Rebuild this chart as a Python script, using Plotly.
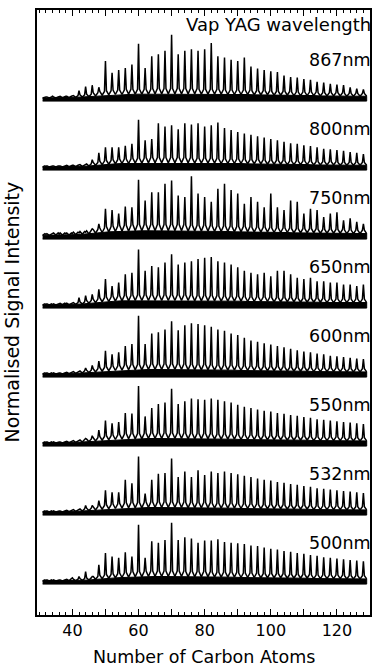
import plotly.graph_objects as go

# Carbon numbers: cluster peaks at even n, noise band sampled at odd n
peak_n = list(range(32, 129, 2))     # 49 values
band_n = list(range(31, 130, 2))     # 50 values

labels = ["867nm", "800nm", "750nm", "650nm", "600nm", "550nm", "532nm", "500nm"]
x_ticks = [40, 50, 60, 70, 80, 90, 100, 110, 120]
x_tick_text = ["40", "", "60", "", "80", "", "100", "", "120"]

# peak heights (fraction of panel spacing), n = 32..128 step 2
peaks_867 = [0.03, 0.04, 0.03, 0.04, 0.05, 0.12, 0.18, 0.2, 0.17, 0.55, 0.38, 0.42, 0.45, 0.5,
             0.8, 0.45, 0.62, 0.65, 0.7, 0.93, 0.65, 0.7, 0.72, 0.7, 0.72, 0.81, 0.62, 0.6, 0.57,
             0.55, 0.6, 0.47, 0.44, 0.42, 0.4, 0.39, 0.34, 0.32, 0.31, 0.29, 0.28, 0.25, 0.24,
             0.22, 0.21, 0.2, 0.17, 0.15, 0.14]
peaks_800 = [0.02, 0.03, 0.03, 0.03, 0.04, 0.05, 0.06, 0.12, 0.22, 0.3, 0.3, 0.3, 0.32, 0.35,
             0.7, 0.4, 0.42, 0.65, 0.6, 0.62, 0.56, 0.65, 0.63, 0.65, 0.6, 0.62, 0.66, 0.58, 0.55,
             0.52, 0.5, 0.48, 0.46, 0.44, 0.42, 0.4, 0.38, 0.36, 0.35, 0.33, 0.32, 0.3, 0.28,
             0.27, 0.26, 0.25, 0.23, 0.22, 0.2]
peaks_750 = [0.04, 0.05, 0.04, 0.05, 0.05, 0.06, 0.07, 0.12, 0.19, 0.41, 0.39, 0.34, 0.44, 0.43,
             0.83, 0.53, 0.65, 0.65, 0.77, 0.82, 0.6, 0.58, 0.88, 0.63, 0.58, 0.51, 0.7, 0.77, 0.68,
             0.63, 0.48, 0.58, 0.51, 0.43, 0.63, 0.43, 0.39, 0.53, 0.51, 0.34, 0.41, 0.39, 0.29,
             0.34, 0.36, 0.24, 0.27, 0.22, 0.19]
peaks_650 = [0.02, 0.02, 0.03, 0.03, 0.04, 0.12, 0.15, 0.17, 0.24, 0.39, 0.29, 0.34, 0.46, 0.48,
             0.82, 0.51, 0.58, 0.56, 0.63, 0.75, 0.6, 0.63, 0.65, 0.68, 0.7, 0.71, 0.65, 0.63, 0.6,
             0.56, 0.51, 0.48, 0.46, 0.48, 0.43, 0.51, 0.51, 0.46, 0.41, 0.39, 0.41, 0.36, 0.36,
             0.34, 0.34, 0.31, 0.31, 0.29, 0.31]
peaks_600 = [0.02, 0.02, 0.03, 0.03, 0.04, 0.06, 0.1, 0.14, 0.2, 0.35, 0.3, 0.33, 0.42, 0.45,
             0.86, 0.45, 0.6, 0.62, 0.66, 0.78, 0.65, 0.72, 0.75, 0.74, 0.72, 0.7, 0.66, 0.64, 0.6,
             0.58, 0.54, 0.5, 0.48, 0.46, 0.44, 0.42, 0.4, 0.38, 0.36, 0.34, 0.33, 0.31, 0.3,
             0.28, 0.27, 0.26, 0.25, 0.24, 0.23]
peaks_550 = [0.02, 0.02, 0.03, 0.03, 0.04, 0.05, 0.08, 0.12, 0.2, 0.34, 0.3, 0.32, 0.45, 0.44,
             0.84, 0.4, 0.52, 0.58, 0.6, 0.8, 0.58, 0.62, 0.66, 0.65, 0.64, 0.66, 0.64, 0.62, 0.6,
             0.57, 0.54, 0.52, 0.5, 0.48, 0.47, 0.45, 0.44, 0.42, 0.41, 0.39, 0.38, 0.36, 0.35,
             0.34, 0.33, 0.32, 0.31, 0.3, 0.29]
peaks_532 = [0.02, 0.02, 0.03, 0.03, 0.04, 0.06, 0.11, 0.11, 0.18, 0.33, 0.3, 0.3, 0.48, 0.43,
             0.82, 0.28, 0.48, 0.57, 0.58, 0.79, 0.52, 0.6, 0.52, 0.62, 0.55, 0.6, 0.58, 0.6, 0.58,
             0.56, 0.54, 0.52, 0.5, 0.48, 0.47, 0.45, 0.44, 0.42, 0.41, 0.39, 0.38, 0.36, 0.35,
             0.34, 0.33, 0.32, 0.31, 0.3, 0.29]
peaks_500 = [0.02, 0.02, 0.03, 0.03, 0.06, 0.08, 0.15, 0.08, 0.25, 0.42, 0.37, 0.35, 0.43, 0.37,
             0.83, 0.35, 0.59, 0.57, 0.61, 0.86, 0.61, 0.65, 0.63, 0.57, 0.6, 0.6, 0.62, 0.58, 0.57,
             0.56, 0.55, 0.53, 0.52, 0.5, 0.48, 0.47, 0.45, 0.44, 0.42, 0.41, 0.39, 0.38, 0.36,
             0.35, 0.34, 0.33, 0.32, 0.31, 0.3]

# top of the noise band between peaks, odd n = 31..129
band_867 = [0.03, 0.03, 0.03, 0.04, 0.04, 0.05, 0.06, 0.07, 0.09, 0.11,
            0.12, 0.13, 0.13, 0.14, 0.14, 0.14, 0.14, 0.15, 0.15, 0.15,
            0.15, 0.15, 0.15, 0.15, 0.14, 0.14, 0.14, 0.14, 0.13, 0.13,
            0.13, 0.13, 0.12, 0.12, 0.12, 0.11, 0.11, 0.11, 0.1, 0.1,
            0.1, 0.1, 0.09, 0.09, 0.09, 0.09, 0.08, 0.08, 0.08, 0.08]
band_800 = [0.03, 0.03, 0.03, 0.03, 0.04, 0.04, 0.05, 0.06, 0.08, 0.1,
            0.11, 0.12, 0.13, 0.13, 0.14, 0.14, 0.15, 0.15, 0.15, 0.15,
            0.15, 0.15, 0.15, 0.14, 0.14, 0.14, 0.14, 0.13, 0.13, 0.13,
            0.13, 0.12, 0.12, 0.12, 0.11, 0.11, 0.11, 0.1, 0.1, 0.1,
            0.1, 0.09, 0.09, 0.09, 0.09, 0.08, 0.08, 0.08, 0.08, 0.08]
band_750 = [0.05, 0.05, 0.06, 0.06, 0.06, 0.07, 0.08, 0.09, 0.11, 0.13,
            0.15, 0.16, 0.17, 0.17, 0.18, 0.18, 0.18, 0.18, 0.18, 0.18,
            0.18, 0.18, 0.17, 0.17, 0.17, 0.17, 0.16, 0.16, 0.16, 0.15,
            0.15, 0.15, 0.14, 0.14, 0.14, 0.13, 0.13, 0.13, 0.12, 0.12,
            0.12, 0.12, 0.11, 0.11, 0.11, 0.11, 0.1, 0.1, 0.1, 0.1]
band_650 = [0.03, 0.03, 0.03, 0.04, 0.04, 0.05, 0.06, 0.08, 0.1, 0.12,
            0.13, 0.14, 0.15, 0.15, 0.16, 0.16, 0.16, 0.16, 0.16, 0.16,
            0.16, 0.16, 0.16, 0.15, 0.15, 0.15, 0.15, 0.14, 0.14, 0.14,
            0.14, 0.13, 0.13, 0.13, 0.13, 0.12, 0.12, 0.12, 0.12, 0.11,
            0.11, 0.11, 0.11, 0.1, 0.1, 0.1, 0.1, 0.1, 0.1, 0.1]
band_600 = [0.03, 0.03, 0.03, 0.03, 0.04, 0.05, 0.06, 0.07, 0.09, 0.11,
            0.12, 0.13, 0.14, 0.15, 0.15, 0.15, 0.16, 0.16, 0.16, 0.16,
            0.16, 0.16, 0.15, 0.15, 0.15, 0.15, 0.14, 0.14, 0.14, 0.14,
            0.13, 0.13, 0.13, 0.12, 0.12, 0.12, 0.12, 0.11, 0.11, 0.11,
            0.11, 0.1, 0.1, 0.1, 0.1, 0.1, 0.09, 0.09, 0.09, 0.09]
band_550 = [0.03, 0.03, 0.03, 0.03, 0.04, 0.05, 0.06, 0.07, 0.09, 0.11,
            0.12, 0.13, 0.14, 0.15, 0.15, 0.15, 0.16, 0.16, 0.16, 0.16,
            0.16, 0.16, 0.15, 0.15, 0.15, 0.15, 0.14, 0.14, 0.14, 0.14,
            0.13, 0.13, 0.13, 0.12, 0.12, 0.12, 0.12, 0.11, 0.11, 0.11,
            0.11, 0.1, 0.1, 0.1, 0.1, 0.1, 0.09, 0.09, 0.09, 0.09]
band_532 = [0.03, 0.03, 0.03, 0.03, 0.04, 0.05, 0.06, 0.07, 0.09, 0.11,
            0.12, 0.13, 0.14, 0.15, 0.15, 0.15, 0.16, 0.16, 0.16, 0.16,
            0.16, 0.16, 0.15, 0.15, 0.15, 0.15, 0.14, 0.14, 0.14, 0.14,
            0.13, 0.13, 0.13, 0.12, 0.12, 0.12, 0.12, 0.11, 0.11, 0.11,
            0.11, 0.1, 0.1, 0.1, 0.1, 0.1, 0.09, 0.09, 0.09, 0.09]
band_500 = [0.03, 0.03, 0.03, 0.03, 0.04, 0.04, 0.05, 0.06, 0.08, 0.1,
            0.11, 0.12, 0.13, 0.14, 0.15, 0.15, 0.16, 0.16, 0.16, 0.16,
            0.16, 0.16, 0.15, 0.15, 0.15, 0.15, 0.14, 0.14, 0.14, 0.14,
            0.13, 0.13, 0.13, 0.12, 0.12, 0.12, 0.12, 0.11, 0.11, 0.11,
            0.11, 0.1, 0.1, 0.1, 0.1, 0.1, 0.09, 0.09, 0.09, 0.09]

peaks_all = [peaks_867, peaks_800, peaks_750, peaks_650, peaks_600, peaks_550, peaks_532, peaks_500]
bands_all = [band_867, band_800, band_750, band_650, band_600, band_550, band_532, band_500]

FONT = "DejaVu Sans"
BAND_DROP = 0.03    # lower edge of the baseline band below zero
FILL_FRAC = 0.5     # part of the band drawn solid
SPIKE_HALF = 0.3    # half width of a spike tip, carbon units

fig = go.Figure()
n_spec = len(labels)
for i, (lab, pk, bd) in enumerate(zip(labels, peaks_all, bands_all)):
    off = n_spec - 1 - i
    # solid lower part of the baseline band
    bx = band_n + band_n[::-1]
    by = [FILL_FRAC * b + off for b in bd] + [off - BAND_DROP] * len(band_n)
    fig.add_trace(go.Scatter(x=bx, y=by, mode="lines", fill="toself", fillcolor="black",
                             line=dict(color="black", width=1), hoverinfo="skip", showlegend=False))
    # continuous trace: valley -> shoulder -> peak -> shoulder -> valley
    xs, ys = [band_n[0]], [off + FILL_FRAC * bd[0]]
    for j, n in enumerate(peak_n):
        xs += [n - SPIKE_HALF, n, n + SPIKE_HALF, band_n[j + 1]]
        ys += [off + bd[j], off + pk[j], off + bd[j + 1], off + FILL_FRAC * bd[j + 1]]
    fig.add_trace(go.Scatter(x=xs, y=ys, mode="lines", line=dict(color="black", width=1.5),
                             hoverinfo="skip", showlegend=False))
    fig.add_annotation(x=1.0, xref="paper", y=off + 0.56, yref="y", text=lab, showarrow=False,
                       xanchor="right", yanchor="middle", xshift=3,
                       font=dict(family=FONT, size=17.5, color="black"))

fig.add_annotation(x=1.0, xref="paper", y=1.0, yref="paper", text="Vap YAG wavelength", showarrow=False,
                   xanchor="right", yanchor="top", xshift=3, yshift=-2,
                   font=dict(family=FONT, size=18, color="black"))
fig.add_annotation(x=0.5, xref="paper", y=0, yref="paper", yanchor="middle", yshift=-42,
                   text="Number of Carbon Atoms", showarrow=False,
                   font=dict(family=FONT, size=17.5, color="black"))
fig.add_annotation(x=0, xref="paper", xshift=-26, y=0.5, yref="paper", textangle=-90,
                   text="Normalised Signal Intensity", showarrow=False, xanchor="center",
                   font=dict(family=FONT, size=19, color="black"))

fig.update_layout(
    width=375, height=669,
    margin=dict(l=37, r=3, t=10, b=54),
    paper_bgcolor="white", plot_bgcolor="white",
    font=dict(family=FONT, color="black"),
    xaxis=dict(range=[29.3, 130], tickvals=x_ticks, ticktext=x_tick_text, ticks="inside", ticklen=6,
               tickwidth=1.2, tickcolor="black", mirror="allticks", showline=True, linecolor="black",
               linewidth=1.5, showgrid=False, zeroline=False, tickfont=dict(family=FONT, size=16),
               minor=dict(dtick=2, tick0=30, ticks="inside", ticklen=3, tickwidth=1,
                          tickcolor="black", showgrid=False)),
    yaxis=dict(range=[-0.478, 8.29], showticklabels=False, ticks="", mirror=True, showline=True,
               linecolor="black", linewidth=1.5, showgrid=False, zeroline=False),
)

fig.write_html("out.html")
